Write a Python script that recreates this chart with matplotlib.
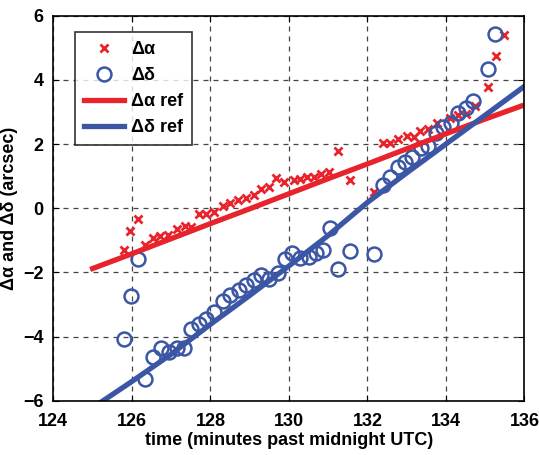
import matplotlib
matplotlib.use("Agg")
import matplotlib.pyplot as plt

plt.rcParams['font.family'] = ['Liberation Sans', 'DejaVu Sans']
plt.rcParams['font.weight'] = 'bold'

# measured offsets (arcsec) vs time (minutes past midnight UTC)
t_alpha = [125.79, 125.96, 126.15, 126.34, 126.55, 126.72, 126.93, 127.15, 127.36, 127.51,
           127.72, 127.89, 128.08, 128.31, 128.50, 128.71, 128.91, 129.11, 129.30, 129.49,
           129.68, 129.87, 130.13, 130.27, 130.47, 130.64, 130.81, 131.02, 131.24, 131.56,
           132.17, 132.39, 132.58, 132.79, 133.02, 133.18, 133.35, 133.54, 133.77, 134.11,
           134.30, 134.51, 134.73, 135.08, 135.28, 135.49]
d_alpha = [-1.30, -0.71, -0.34, -1.15, -0.92, -0.86, -0.84, -0.66, -0.56, -0.58,
           -0.18, -0.18, -0.11, 0.07, 0.15, 0.26, 0.31, 0.41, 0.59, 0.67,
           0.95, 0.81, 0.88, 0.90, 0.96, 0.98, 1.06, 1.14, 1.79, 0.89,
           0.52, 2.03, 2.02, 2.16, 2.24, 2.23, 2.40, 2.46, 2.65, 2.82,
           2.92, 2.93, 3.18, 3.79, 4.75, 5.40]

t_delta = [125.79, 125.98, 126.15, 126.34, 126.55, 126.74, 126.95, 127.15, 127.34, 127.51,
           127.72, 127.89, 128.08, 128.31, 128.51, 128.72, 128.91, 129.11, 129.28, 129.49,
           129.71, 129.90, 130.07, 130.27, 130.50, 130.68, 130.87, 131.04, 131.24, 131.56,
           132.17, 132.39, 132.58, 132.78, 132.96, 133.13, 133.36, 133.55, 133.75, 133.92,
           134.13, 134.32, 134.51, 134.68, 135.06, 135.25]
d_delta = [-4.09, -2.74, -1.58, -5.33, -4.63, -4.37, -4.49, -4.37, -4.37, -3.78,
           -3.62, -3.45, -3.23, -2.89, -2.71, -2.55, -2.40, -2.24, -2.08, -2.21,
           -2.01, -1.59, -1.41, -1.56, -1.51, -1.39, -1.30, -0.63, -1.91, -1.33,
           -1.43, 0.73, 0.98, 1.29, 1.45, 1.60, 1.87, 1.94, 2.33, 2.54,
           2.65, 2.98, 3.11, 3.34, 4.33, 5.43]

# reference curves
t_ref = [125, 126, 127, 128, 129, 130, 131, 132, 133, 134, 135, 136]
alpha_ref = [-1.88, -1.42, -0.95, -0.48, -0.02, 0.45, 0.92, 1.38, 1.85, 2.32, 2.78, 3.22]
delta_ref = [-6.22, -5.40, -4.55, -3.62, -2.72, -1.80, -0.85, 0.18, 1.10, 2.00, 2.90, 3.80]

red = '#e8232b'
blue = '#3a56a5'

fig = plt.figure(figsize=(5.39, 4.55), dpi=100)
ax = fig.add_axes([0.099, 0.1193, 0.874, 0.8462])

ax.plot(t_alpha, d_alpha, 'x', color=red, ms=6, mew=2, label=u'\u0394\u03b1')
ax.plot(t_delta, d_delta, 'o', color=blue, ms=10, mew=1.8, mfc='none', label=u'\u0394\u03b4')
ax.plot(t_ref, alpha_ref, '-', color=red, lw=3.8, label=u'\u0394\u03b1 ref')
ax.plot(t_ref, delta_ref, '-', color=blue, lw=3.8, label=u'\u0394\u03b4 ref')

ax.set_xlim(124, 136)
ax.set_ylim(-6, 6)
ax.set_xticks(range(124, 137, 2))
ax.set_yticks(range(-6, 7, 2))
ax.grid(True, linestyle=(0, (4, 4)), color='#444444', lw=0.9)
ax.tick_params(direction='in', top=True, right=True, labelsize=13, length=4)
ax.tick_params(axis='x', pad=9)
ax.tick_params(axis='y', pad=7)
for lab in ax.get_xticklabels() + ax.get_yticklabels():
    lab.set_fontweight('bold')
for sp in ax.spines.values():
    sp.set_linewidth(1.2)

ax.set_xlabel('time (minutes past midnight UTC)', fontsize=13, fontweight='bold', labelpad=1)
ax.set_ylabel(u'\u0394\u03b1 and \u0394\u03b4 (arcsec)', fontsize=13, fontweight='bold', labelpad=4)

leg = ax.legend(loc='upper left', bbox_to_anchor=(0.046, 0.958), borderaxespad=0,
                fontsize=13, frameon=True, fancybox=False, edgecolor='black',
                handlelength=2.2, handletextpad=0.4, borderpad=0.5, labelspacing=0.5)
leg.get_frame().set_linewidth(1.2)
for txt in leg.get_texts():
    txt.set_fontweight('bold')

fig.savefig('out.png', dpi=100)
